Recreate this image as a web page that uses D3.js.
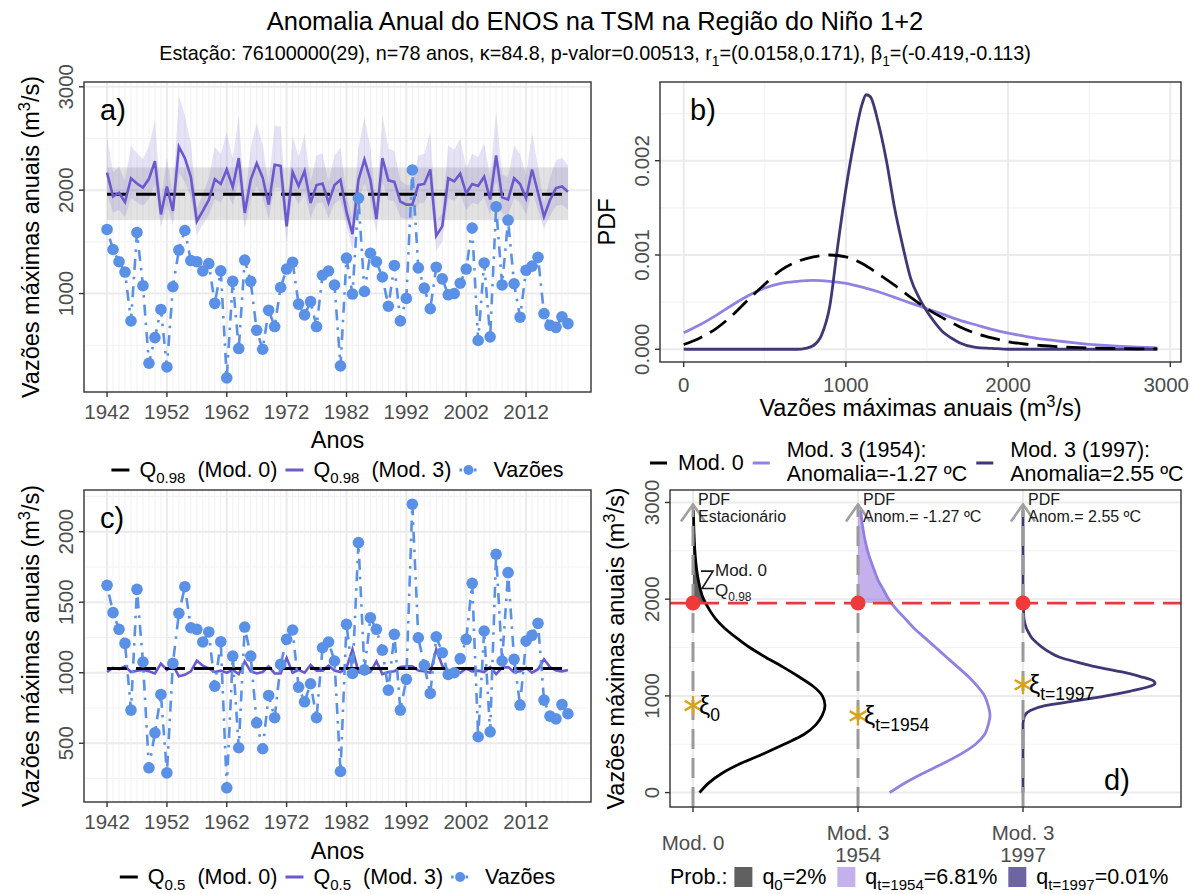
<!DOCTYPE html>
<html>
<head>
<meta charset="utf-8">
<script src="https://cdn.jsdelivr.net/npm/d3@7"></script>
<style>
body{margin:0;background:#fff;}
svg text{font-family:"Liberation Sans",Arial,Helvetica,sans-serif;}
</style>
</head>
<body>
<svg id="chart" width="1190" height="894"></svg>
<script>
// ===================== DATA =====================
const firstYear = 1942;
const flows = [1620,1426,1308,1208,735,1591,1076,326,574,846,
  290,1066,1421,1610,1319,1308,1218,1289,905,1220,
  184,1118,468,1324,1118,645,461,839,681,1059,
  1237,1303,898,794,922,681,1177,1218,1083,300,
  1343,995,1923,1020,1390,1308,1160,877,1272,735,
  953,2195,1248,1052,853,1255,1142,988,1000,1100,
  1237,1634,546,1296,581,1840,1083,1710,1095,771,
  1225,1265,1350,806,692,673,775,709];
const q98Mod3 = [2170,1940,1975,1885,2115,2065,2025,2110,2280,1765,
  2035,1800,2420,2310,2130,1700,1800,1905,2105,2060,
  2200,2030,2310,1780,2100,2260,2120,1860,2245,2235,
  1650,2175,2040,2185,1875,2050,2065,1880,2050,2100,
  1790,1575,2100,2295,2100,1720,2310,2095,2080,1890,
  1860,1860,2050,2060,2200,1560,1650,2115,2085,2160,
  1970,2060,2040,2130,1910,2335,1930,1910,2115,2060,
  1920,2200,1975,1745,1905,2020,2035,1985];
const q98Mod3High = [2515,2170,2223,2088,2433,2358,2298,2425,2680,1908,
  2313,1960,2910,2725,2455,1820,1960,2118,2418,2350,
  2560,2305,2725,1900,2410,2650,2440,2050,2628,2613,
  1780,2523,2320,2538,2073,2335,2358,2080,2335,2410,
  1945,1720,2410,2703,2410,1840,2725,2403,2380,2095,
  2050,2050,2335,2350,2560,1700,1780,2433,2388,2500,
  2215,2350,2320,2455,2125,2763,2155,2125,2433,2350,
  2140,2560,2223,1878,2118,2290,2313,2238];
const q98Mod3Low = [1966,1782,1810,1738,1922,1882,1850,1918,2054,1642,
  1858,1670,2166,2078,1934,1560,1670,1754,1914,1878,
  1990,1854,2078,1630,1910,2038,1926,1718,2026,2018,
  1500,1970,1862,1978,1730,1870,1882,1734,1870,1910,
  1662,1420,1910,2066,1910,1580,2078,1906,1894,1742,
  1718,1718,1870,1878,1990,1410,1500,1922,1898,1958,
  1806,1878,1862,1934,1758,2088,1774,1758,1922,1878,
  1766,1990,1810,1626,1754,1846,1858,1812];
const q98Mod0 = 1960;
const q98Mod0Band = [1710, 2220];
const q50Mod3 = [1005,1035,1025,1045,1005,1015,1020,1010,995,1065,
  1020,1055,975,985,1010,1085,1050,1030,1005,1015,
  1000,1020,990,1080,1010,995,1005,1045,995,995,
  1105,1000,1020,1000,1055,1015,1015,1050,1015,1005,
  1035,1165,1005,990,1005,1080,990,1005,1010,1040,
  1045,1045,1015,1010,1000,1165,1050,1005,1010,1000,
  1030,1010,1015,1005,1040,990,1035,1040,1005,1010,
  1035,1000,1025,1095,1040,1015,1010,1020];
const q50Mod0 = 1030;

// PDFs (panel b / d)
const pdfX = [0,100,200,300,400,500,600,700,800,900,1000,1100,1200,1300,1400,1500,
  1600,1700,1800,1900,2000,2100,2200,2300,2400,2500,2600,2700,2800,2900,2920];
const pdfMod0 = [0.00005,0.00012,0.00022,0.00036,0.00053,0.00069,0.00084,0.00093,0.00098,0.001,
  0.00098,0.00091,0.0008,0.00068,0.00055,0.00043,0.00033,0.00024,0.00017,0.00012,
  0.00008,0.000056,0.00004,0.000028,0.00002,0.000014,0.00001,0.000007,0.000005,0.000004,0.0000035];
const pdfMod3y1954 = [0.000175,0.00026,0.00036,0.00047,0.00057,0.00065,0.0007,0.00072,0.00073,0.00072,
  0.0007,0.00066,0.00061,0.00055,0.00049,0.00043,0.00037,0.00031,0.00026,0.00021,
  0.00017,0.00014,0.00011,0.00009,0.00007,0.000053,0.00004,0.00003,0.000022,0.000016,0.000015];
const pdfX1997 = [0,700,750,800,850,900,950,1000,1050,1100,1125,1150,1200,1250,1300,1350,
  1400,1450,1500,1550,1600,1650,1700,1800,1900,2000,2920];
const pdfMod3y1997 = [0,0,0.00001,0.00004,0.00015,0.00045,0.0011,0.0017,0.0022,0.0026,0.0027,0.00268,
  0.0024,0.002,0.0015,0.0011,0.00075,0.00055,0.0004,0.00028,0.00018,0.00012,0.00007,0.00002,0.00001,0,0];

const dXi = [900, 793, 1115];
const dXiSub = ["0", "t=1954", "t=1997"];
const dHeaders = [["PDF","Estacionário"],["PDF","Anom.= -1.27 ºC"],["PDF","Anom.= 2.55 ºC"]];
const dTickLabels = [["Mod. 0"],["Mod. 3","1954"],["Mod. 3","1997"]];
const qThreshold = 1960;
const arrowTop = 2980;
const probSub = ["0", "t=1954", "t=1997"];
const probVal = ["=2%", "=6.81%", "=0.01%"];

// ===================== STYLE =====================
const COL = {
  flow: "#5a91e6", mod3: "#6a5acd", mod3Rib: "rgba(106,90,205,0.17)",
  band: "rgba(140,140,140,0.25)", light: "#9480e2", dark: "#3f3875",
  red: "#e63a3f", dot: "#f03a3a", gold: "#d9a21b"
};
const FS_TICK = 20.5, FS_TITLE = 23.5, FS_LEG = 21.5, FS_TAG = 29;
const GRID_MAJ = "#ebebeb", GRID_MIN = "#f3f3f3", BORDER = "#333333", TICKTXT = "#4d4d4d";
const CANVAS_W = 1190;

const years = d3.range(firstYear, firstYear + flows.length);
const svg = d3.select("#chart");
svg.append("rect").attr("width",CANVAS_W).attr("height",894).attr("fill","#fff");

function expand(ext, f = 0.05) { const r = ext[1] - ext[0]; return [ext[0] - f*r, ext[1] + f*r]; }

function rich(textSel, parts, fs) {
  let shift = 0;
  parts.forEach(p => {
    const small = p.sub || p.sup;
    const target = p.sub ? fs*0.3 : (p.sup ? -fs*0.4 : 0);
    textSel.append("tspan").attr("dy", target - shift)
      .attr("font-size", small ? fs*0.7 : fs).text(p.t);
    shift = target;
  });
  return textSel;
}

const M3 = [{t:"Vazões máximas anuais (m"},{t:"3",sup:true},{t:"/s)"}];

function grid(g, P, x, y, xMaj, xMin, yMaj, yMin) {
  g.selectAll(null).data(xMin).join("line")
    .attr("x1",d=>x(d)).attr("x2",d=>x(d)).attr("y1",P.T).attr("y2",P.B)
    .attr("stroke",GRID_MIN).attr("stroke-width",1.1);
  g.selectAll(null).data(yMin).join("line")
    .attr("y1",d=>y(d)).attr("y2",d=>y(d)).attr("x1",P.L).attr("x2",P.R)
    .attr("stroke",GRID_MIN).attr("stroke-width",1.1);
  g.selectAll(null).data(xMaj).join("line")
    .attr("x1",d=>x(d)).attr("x2",d=>x(d)).attr("y1",P.T).attr("y2",P.B)
    .attr("stroke",GRID_MAJ).attr("stroke-width",2);
  g.selectAll(null).data(yMaj).join("line")
    .attr("y1",d=>y(d)).attr("y2",d=>y(d)).attr("x1",P.L).attr("x2",P.R)
    .attr("stroke",GRID_MAJ).attr("stroke-width",2);
}

function border(g, P) {
  g.append("rect").attr("x",P.L).attr("y",P.T).attr("width",P.R-P.L).attr("height",P.B-P.T)
    .attr("fill","none").attr("stroke",BORDER).attr("stroke-width",1.4);
}

function yAxis(g, P, y, ticks, fmt) {
  g.selectAll(null).data(ticks).join("line")
    .attr("x1",P.L-5).attr("x2",P.L).attr("y1",d=>y(d)).attr("y2",d=>y(d))
    .attr("stroke",BORDER).attr("stroke-width",1.4);
  g.selectAll(null).data(ticks).join("text")
    .attr("transform",d=>`translate(${P.L-11},${y(d)}) rotate(-90)`)
    .attr("text-anchor","middle").attr("font-size",FS_TICK).attr("fill",TICKTXT)
    .text(fmt);
}
function xAxis(g, P, x, ticks, fmt, dy) {
  g.selectAll(null).data(ticks).join("line")
    .attr("y1",P.B).attr("y2",P.B+5).attr("x1",d=>x(d)).attr("x2",d=>x(d))
    .attr("stroke",BORDER).attr("stroke-width",1.4);
  g.selectAll(null).data(ticks).join("text")
    .attr("x",d=>x(d)).attr("y",P.B+dy).attr("text-anchor","middle")
    .attr("font-size",FS_TICK).attr("fill",TICKTXT).text(fmt)
    .each(function(){
      // keep labels inside the canvas
      const w = this.getComputedTextLength();
      const cx = +this.getAttribute("x");
      if (cx + w/2 > CANVAS_W - 1) this.setAttribute("x", CANVAS_W - 1 - w/2);
    });
}
function yTitle(g, P, parts, off = 45) {
  const t = g.append("text")
    .attr("transform",`translate(${P.L-off},${(P.T+P.B)/2}) rotate(-90)`)
    .attr("text-anchor","middle").attr("font-size",FS_TITLE).attr("fill","#000");
  rich(t, parts, FS_TITLE);
}
function tag(g, x, y, s) {
  g.append("text").attr("x",x).attr("y",y).attr("font-size",FS_TAG).attr("fill","#000").text(s);
}

function legendRow(g, items, cx, y) {
  const grp = g.append("g");
  let xp = 0;
  items.forEach(it => {
    const k = grp.append("g").attr("transform",`translate(${xp},0)`);
    k.append("line").attr("x1",0).attr("x2",18).attr("y1",-7).attr("y2",-7)
      .attr("stroke",it.color).attr("stroke-width",3).attr("stroke-dasharray",it.dash||null);
    if (it.point) k.append("circle").attr("cx",9).attr("cy",-7).attr("r",5).attr("fill",it.color);
    xp += 18 + 10;
    const t = grp.append("text").attr("x",xp).attr("y",0).attr("font-size",FS_LEG).attr("fill","#000");
    rich(t, it.parts, FS_LEG);
    xp += t.node().getComputedTextLength() + 8;
  });
  const w = xp - 8;
  grp.attr("transform",`translate(${cx - w/2},${y})`);
}

// ===================== TITLES =====================
svg.append("text").attr("x",595).attr("y",30).attr("text-anchor","middle")
  .attr("font-size",25.5).attr("fill","#000")
  .text("Anomalia Anual do ENOS na TSM na Região do Niño 1+2");
rich(svg.append("text").attr("x",595).attr("y",60).attr("text-anchor","middle").attr("fill","#000"),
  [{t:"Estação: 76100000(29), n=78 anos, κ=84.8, p-valor=0.00513, r"},{t:"1",sub:true},
   {t:"=(0.0158,0.171), β"},{t:"1",sub:true},{t:"=(-0.419,-0.113)"}], 19.8);

// ===================== PANELS a & c =====================
function timePanel(P, yData, opts) {
  const g = svg.append("g");
  const x = d3.scaleLinear().domain(expand([years[0], years[years.length-1]])).range([P.L,P.R]);
  const y = d3.scaleLinear().domain(expand(d3.extent(yData))).range([P.B,P.T]);
  const decades = years.filter(d => (d - firstYear) % 10 === 0);
  grid(g, P, x, y, decades, years, opts.yMaj, opts.yMin);
  opts.draw(g, x, y);
  g.append("path").datum(flows)
    .attr("d", d3.line().x((d,i)=>x(years[i])).y(d=>y(d)))
    .attr("fill","none").attr("stroke",COL.flow).attr("stroke-width",2.6)
    .attr("stroke-dasharray","2.5 7 11 7");
  g.selectAll(null).data(flows).join("circle")
    .attr("cx",(d,i)=>x(years[i])).attr("cy",d=>y(d)).attr("r",5.8).attr("fill",COL.flow);
  border(g, P);
  yAxis(g, P, y, opts.yMaj, d=>d);
  xAxis(g, P, x, decades, d=>d, 27);
  yTitle(g, P, M3);
  g.append("text").attr("x",(P.L+P.R)/2).attr("y",P.B+opts.titleDy).attr("text-anchor","middle")
    .attr("font-size",FS_TITLE).attr("fill","#000").text("Anos");
  legendRow(g, [
    {color:"#000", parts:[{t:"Q"},{t:opts.q,sub:true},{t:"\u00a0\u00a0(Mod. 0)"}]},
    {color:COL.mod3, parts:[{t:"Q"},{t:opts.q,sub:true},{t:"\u00a0\u00a0(Mod. 3)"}]},
    {color:COL.flow, point:true, dash:"2.5 3 6 3", parts:[{t:"\u00a0Vazões"}]}
  ], (P.L+P.R)/2, P.B+opts.legDy);
  tag(g, opts.tagX, P.T + 38, opts.tag);
}

// Panel a
const PA = {L:84, R:591, T:82, B:392};
timePanel(PA, flows.concat(q98Mod3High), {
  yMaj:[1000,2000,3000], yMin:[500,1500,2500], q:"0.98", tag:"a)", tagX:100, titleDy:56, legDy:85,
  draw:(g,x,y)=>{
    g.append("rect").attr("x",x(years[0])).attr("width",x(years[years.length-1])-x(years[0]))
      .attr("y",y(q98Mod0Band[1])).attr("height",y(q98Mod0Band[0])-y(q98Mod0Band[1]))
      .attr("fill",COL.band);
    g.append("path").datum(years)
      .attr("d", d3.area().x(d=>x(d)).y0((d,i)=>y(q98Mod3Low[i])).y1((d,i)=>y(q98Mod3High[i])))
      .attr("fill",COL.mod3Rib);
    g.append("line").attr("x1",x(years[0])).attr("x2",x(years[years.length-1]))
      .attr("y1",y(q98Mod0)).attr("y2",y(q98Mod0))
      .attr("stroke","#000").attr("stroke-width",3).attr("stroke-dasharray","20 9");
    g.append("path").datum(q98Mod3)
      .attr("d", d3.line().x((d,i)=>x(years[i])).y(d=>y(d)))
      .attr("fill","none").attr("stroke",COL.mod3).attr("stroke-width",2.6);
  }
});

// Panel c
const PC = {L:84, R:591, T:490, B:802};
timePanel(PC, flows, {
  yMaj:[500,1000,1500,2000], yMin:[250,750,1250,1750,2250], q:"0.5", tag:"c)", tagX:100, titleDy:57, legDy:82,
  draw:(g,x,y)=>{
    g.append("path").datum(q50Mod3)
      .attr("d", d3.line().x((d,i)=>x(years[i])).y(d=>y(d)))
      .attr("fill","none").attr("stroke",COL.mod3).attr("stroke-width",2.6);
    g.append("line").attr("x1",x(years[0])).attr("x2",x(years[years.length-1]))
      .attr("y1",y(q50Mod0)).attr("y2",y(q50Mod0))
      .attr("stroke","#000").attr("stroke-width",3.2).attr("stroke-dasharray","20 9");
  }
});

// ===================== PANEL b =====================
(function(){
  const P = {L:660, R:1181, T:82, B:362};
  const g = svg.append("g");
  const x = d3.scaleLinear().domain(expand([0, 2920])).range([P.L,P.R]);
  const y = d3.scaleLinear().domain(expand([0, d3.max(pdfMod3y1997)])).range([P.B,P.T]);
  grid(g, P, x, y, [0,1000,2000,3000], [500,1500,2500], [0,0.001,0.002], [0.0005,0.0015,0.0025]);
  const ln = (xs) => d3.line().curve(d3.curveMonotoneX).x((d,i)=>x(xs[i])).y(d=>y(d));
  g.append("path").datum(pdfMod3y1954).attr("d",ln(pdfX)).attr("fill","none")
    .attr("stroke",COL.light).attr("stroke-width",2.8);
  g.append("path").datum(pdfMod3y1997).attr("d",ln(pdfX1997)).attr("fill","none")
    .attr("stroke",COL.dark).attr("stroke-width",2.8);
  g.append("path").datum(pdfMod0).attr("d",ln(pdfX)).attr("fill","none")
    .attr("stroke","#000").attr("stroke-width",2.8).attr("stroke-dasharray","20 9");
  border(g, P);
  yAxis(g, P, y, [0,0.001,0.002], d3.format(".3f"));
  xAxis(g, P, x, [0,1000,2000,3000], d=>d, 30);
  yTitle(g, P, [{t:"PDF"}], 45);
  rich(g.append("text").attr("x",(P.L+P.R)/2).attr("y",P.B+54).attr("text-anchor","middle")
    .attr("fill","#000"), M3, FS_TITLE);
  tag(g, 690, P.T+38, "b)");
})();

// ===================== PANEL d =====================
(function(){
  const P = {L:670, R:1181, T:490, B:807};
  const g = svg.append("g");
  const x = d3.scaleLinear().domain([0,2]).range([693,1023]);
  const y = d3.scaleLinear().domain(expand([0, arrowTop])).range([P.B,P.T]);
  const W = 0.8;
  grid(g, P, x, y, [0,1,2], [], [0,1000,2000,3000], [500,1500,2500]);
  const curves = [
    {xs:pdfX, ps:pdfMod0, stroke:"#000", fill:"#333333", op:0.78},
    {xs:pdfX, ps:pdfMod3y1954, stroke:COL.light, fill:"#9370db", op:0.55},
    {xs:pdfX1997, ps:pdfMod3y1997, stroke:COL.dark, fill:"#483d8b", op:0.8}
  ];
  g.append("clipPath").attr("id","tail").append("rect")
    .attr("x",P.L).attr("y",P.T).attr("width",P.R-P.L).attr("height",y(qThreshold)-P.T);
  curves.forEach((c,k)=>{
    const mx = d3.max(c.ps);
    g.append("path").datum(c.ps).attr("clip-path","url(#tail)")
      .attr("d", d3.area().curve(d3.curveMonotoneY).y((d,i)=>y(c.xs[i])).x0(()=>x(k)).x1(d=>x(k + d/mx*W)))
      .attr("fill",c.fill).attr("fill-opacity",c.op);
  });
  curves.forEach((c,k)=>{
    const mx = d3.max(c.ps);
    g.append("path").datum(c.ps)
      .attr("d", d3.line().curve(d3.curveMonotoneY).y((d,i)=>y(c.xs[i])).x(d=>x(k + d/mx*W)))
      .attr("fill","none").attr("stroke",c.stroke).attr("stroke-width",2.8);
  });
  [0,1,2].forEach(k=>{
    g.append("line").attr("x1",x(k)).attr("x2",x(k)).attr("y1",P.B).attr("y2",y(arrowTop))
      .attr("stroke","#9a9a9a").attr("stroke-width",3).attr("stroke-dasharray","20 9");
    g.append("path").attr("d",`M${x(k)-12},${y(arrowTop)+17}L${x(k)},${y(arrowTop)}L${x(k)+12},${y(arrowTop)+17}`)
      .attr("fill","none").attr("stroke","#a0a0a0").attr("stroke-width",2.6);
  });
  g.append("line").attr("x1",P.L).attr("x2",P.R).attr("y1",y(qThreshold)).attr("y2",y(qThreshold))
    .attr("stroke",COL.red).attr("stroke-width",2.8).attr("stroke-dasharray","20 9");
  [0,1,2].forEach(k=>{
    g.append("circle").attr("cx",x(k)).attr("cy",y(qThreshold)).attr("r",7.5).attr("fill",COL.dot);
  });
  dXi.forEach((v,k)=>{
    g.append("path").attr("transform",`translate(${x(k)},${y(v)})`)
      .attr("d", d3.symbol().type(d3.symbolAsterisk).size(260)())
      .attr("fill","none").attr("stroke",COL.gold).attr("stroke-width",2.4);
    rich(g.append("text").attr("x",x(k)+6).attr("y",y(v)+8).attr("fill","#000"),
      [{t:"ξ"},{t:dXiSub[k],sub:true}], 25);
  });
  dHeaders.forEach((h,k)=>{
    h.forEach((s,j)=>{
      g.append("text").attr("x",x(k)+5).attr("y",P.T+15+j*17).attr("font-size",16)
        .attr("fill","#1a1a1a").text(s);
    });
  });
  const ax = x(0);
  g.append("path").attr("d",`M${ax+8},${y(2290)}L${ax+20},${y(2290)}L${ax+9},${y(2110)}L${ax+21},${y(2110)}`)
    .attr("fill","none").attr("stroke","#1a1a1a").attr("stroke-width",1.6);
  g.append("text").attr("x",ax+22).attr("y",y(2290)+5).attr("font-size",17).attr("fill","#1a1a1a").text("Mod. 0");
  rich(g.append("text").attr("x",ax+22).attr("y",y(2110)+7).attr("fill","#1a1a1a"),
    [{t:"Q"},{t:"0.98",sub:true}], 17);
  tag(g, 1104, 790, "d)");
  border(g, P);
  yAxis(g, P, y, [0,1000,2000,3000], d=>d);
  yTitle(g, P, M3, 46);
  g.selectAll(null).data([0,1,2]).join("line")
    .attr("x1",d=>x(d)).attr("x2",d=>x(d)).attr("y1",P.B).attr("y2",P.B+5)
    .attr("stroke",BORDER).attr("stroke-width",1.4);
  dTickLabels.forEach((lines,k)=>{
    lines.forEach((s,j)=>{
      const yy = lines.length === 1 ? P.B + 43 : P.B + 33 + j*22;
      g.append("text").attr("x",x(k)).attr("y",yy).attr("text-anchor","middle")
        .attr("font-size",FS_TICK).attr("fill",TICKTXT).text(s);
    });
  });
  // top legend
  const lg = svg.append("g");
  const keys = [
    {color:"#000", lines:["Mod. 0"]},
    {color:COL.light, lines:["\u00a0Mod. 3 (1954):","\u00a0Anomalia=-1.27 ºC"]},
    {color:COL.dark, lines:["\u00a0Mod. 3 (1997):","\u00a0Anomalia=2.55 ºC"]}
  ];
  let xp = 650;
  keys.forEach(kk=>{
    lg.append("line").attr("x1",xp).attr("x2",xp+17).attr("y1",463).attr("y2",463)
      .attr("stroke",kk.color).attr("stroke-width",3);
    let wmax = 0;
    kk.lines.forEach((s,j)=>{
      const yy = kk.lines.length === 1 ? 470 : 457 + j*24;
      const t = lg.append("text").attr("x",xp+28).attr("y",yy).attr("font-size",FS_LEG).attr("fill","#000").text(s);
      wmax = Math.max(wmax, t.node().getComputedTextLength());
    });
    xp += 28 + wmax + 9;
  });
  // bottom legend
  const bl = svg.append("g");
  let bx = 670;
  const pt = bl.append("text").attr("x",bx).attr("y",884).attr("font-size",FS_LEG).attr("fill","#000").text("Prob.:");
  bx += pt.node().getComputedTextLength() + 7;
  curves.forEach((c,k)=>{
    bl.append("rect").attr("x",bx).attr("y",867).attr("width",18).attr("height",20)
      .attr("fill",c.fill).attr("fill-opacity",c.op);
    bx += 18 + 10;
    const t = bl.append("text").attr("x",bx).attr("y",884).attr("fill","#000");
    rich(t, [{t:"q"},{t:probSub[k],sub:true},{t:probVal[k]}], FS_LEG);
    bx += t.node().getComputedTextLength() + 11;
  });
})();
</script>
</body>
</html>
